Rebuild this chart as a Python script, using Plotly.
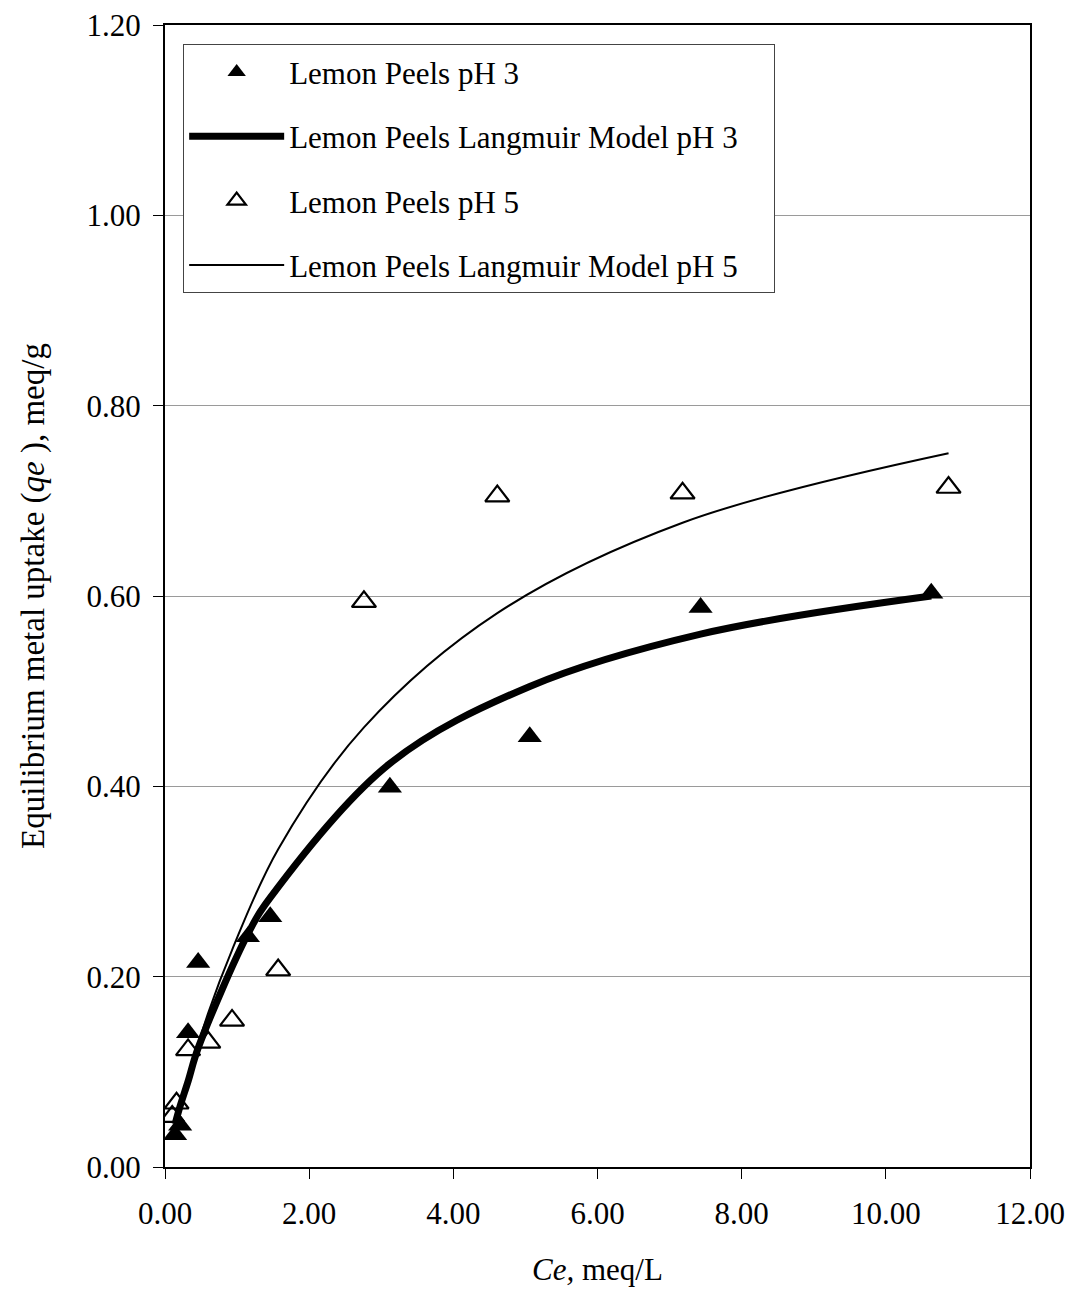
import plotly.graph_objects as go

# Experimental equilibrium data, lemon peels
ce_ph3 = [0.14, 0.21, 0.32, 0.46, 1.15, 1.46, 3.12, 5.06, 7.43, 10.63]
qe_ph3 = [0.034, 0.044, 0.141, 0.215, 0.242, 0.263, 0.399, 0.452, 0.588, 0.603]

ce_ph5 = [0.10, 0.16, 0.32, 0.60, 0.93, 1.57, 2.76, 4.61, 7.18, 10.87]
qe_ph5 = [0.053, 0.067, 0.123, 0.131, 0.154, 0.207, 0.594, 0.705, 0.708, 0.714]

# Langmuir model predictions at the measured concentrations
model_ce_ph3 = [0.14, 0.21, 0.32, 0.46, 1.15, 1.46, 3.12, 5.06, 7.43, 10.63]
model_qe_ph3 = [0.045, 0.064, 0.090, 0.125, 0.245, 0.283, 0.424, 0.505, 0.560, 0.600]

model_ce_ph5 = [0.10, 0.16, 0.32, 0.60, 0.93, 1.57, 2.76, 4.61, 7.18, 10.87]
model_qe_ph5 = [0.035, 0.050, 0.093, 0.162, 0.228, 0.334, 0.462, 0.582, 0.677, 0.750]

x_ticks = [0, 2, 4, 6, 8, 10, 12]
y_ticks = [0.0, 0.2, 0.4, 0.6, 0.8, 1.0, 1.2]

SERIF = "Liberation Serif"
FS = 31
PAD = "\u00a0" * 4  # right-hand breathing room inside the legend box

fig = go.Figure()

fig.add_trace(go.Scatter(
    x=model_ce_ph3, y=model_qe_ph3, mode="lines",
    name="Lemon Peels Langmuir Model pH 3" + PAD,
    line=dict(color="black", width=7, shape="spline", smoothing=1.0),
    legendrank=2, legendgroup="b",
))
fig.add_trace(go.Scatter(
    x=model_ce_ph5, y=model_qe_ph5, mode="lines",
    name="Lemon Peels Langmuir Model pH 5" + PAD,
    line=dict(color="black", width=2, shape="spline", smoothing=1.0),
    legendrank=4, legendgroup="d",
))
fig.add_trace(go.Scatter(
    x=ce_ph3, y=qe_ph3, mode="markers",
    name="Lemon Peels pH 3",
    marker=dict(symbol="triangle-up", size=21, color="black"),
    legendrank=1, legendgroup="a",
))
fig.add_trace(go.Scatter(
    x=ce_ph5, y=qe_ph5, mode="markers",
    name="Lemon Peels pH 5",
    marker=dict(symbol="triangle-up-open", size=21, color="black",
                line=dict(width=2.2, color="black")),
    legendrank=3, legendgroup="c",
))

fig.update_layout(
    width=1070, height=1289,
    margin=dict(l=165, r=40, t=25, b=122),
    paper_bgcolor="white", plot_bgcolor="white",
    font=dict(family=SERIF, size=FS, color="black"),
    showlegend=True,
    legend=dict(
        x=0.021, y=0.983, xanchor="left", yanchor="top",
        bgcolor="white", bordercolor="#444", borderwidth=1,
        font=dict(family=SERIF, size=FS, color="black"),
        traceorder="grouped", tracegroupgap=21, itemwidth=95,
    ),
    xaxis=dict(
        range=[0, 12], tickvals=x_ticks, tickformat=".2f",
        showgrid=False, zeroline=False, automargin=False,
        showline=True, linecolor="black", linewidth=2, mirror=True,
        ticks="outside", ticklen=10, tickcolor="black", tickwidth=1,
        ticklabelstandoff=8,
        tickfont=dict(family=SERIF, size=FS),
        title=dict(text="<i>Ce,</i> meq/L", font=dict(family=SERIF, size=FS), standoff=28),
    ),
    yaxis=dict(
        range=[0, 1.2], tickvals=y_ticks, tickformat=".2f",
        showgrid=True, gridcolor="#9a9a9a", gridwidth=1, zeroline=False,
        automargin=False,
        showline=True, linecolor="black", linewidth=2, mirror=True,
        ticks="outside", ticklen=10, tickcolor="black", tickwidth=1,
        ticklabelstandoff=6,
        tickfont=dict(family=SERIF, size=FS),
        title=dict(text="Equilibrium metal uptake (<i>qe</i> ), meq/g",
                   font=dict(family=SERIF, size=33), standoff=32),
    ),
)

fig.write_html("out.html")
